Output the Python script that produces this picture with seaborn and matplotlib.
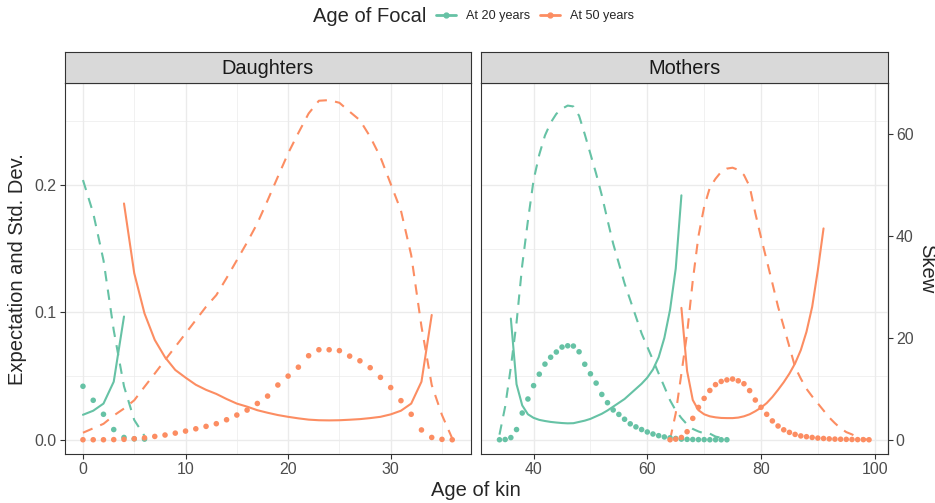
import matplotlib
matplotlib.use("Agg")
import matplotlib.pyplot as plt
from matplotlib.lines import Line2D
from matplotlib.ticker import MultipleLocator, FormatStrFormatter
import seaborn as sns
import pandas as pd

# skew is drawn on the same panel, divided by this factor (right axis shows the real value)
SKEW_SCALE = 250

focal_levels = ["At 20 years", "At 50 years"]
kin_levels = ["Daughters", "Mothers"]

# ---- Daughters, focal aged 20 ----
dau20_age = list(range(0, 7))
dau20_mean = [0.042, 0.031, 0.020, 0.008, 0.0018, 0.0007, 0.0005]
dau20_sd = [0.204, 0.178, 0.141, 0.086, 0.042, 0.0155, 0.003]
dau20_skew_age = list(range(0, 5))
dau20_skew = [4.9, 5.7, 7.1, 11.4, 24.2]

# ---- Daughters, focal aged 50 ----
dau50_age = list(range(0, 37))
dau50_mean = [0, 0, 0, 0.0001, 0.0003, 0.0008, 0.0015, 0.0026, 0.0037, 0.0052,
              0.0068, 0.0086, 0.0105, 0.0126, 0.0157, 0.0194, 0.0233, 0.0285, 0.0343, 0.043,
              0.050, 0.057, 0.066, 0.0707, 0.0707, 0.070, 0.0657, 0.062, 0.0566, 0.049,
              0.041, 0.0307, 0.020, 0.0077, 0.0018, 0.0003, 0]
dau50_sd = [0.0055, 0.009, 0.0125, 0.019, 0.0245, 0.031, 0.0416, 0.052, 0.0626, 0.073,
            0.0835, 0.094, 0.1045, 0.1136, 0.127, 0.141, 0.155, 0.170, 0.188, 0.2066,
            0.225, 0.241, 0.2563, 0.2663, 0.2668, 0.2647, 0.2577, 0.251, 0.238, 0.222,
            0.201, 0.180, 0.145, 0.089, 0.043, 0.0194, 0.001]
dau50_skew_age = list(range(4, 35))
dau50_skew = [46.4, 32.7, 24.8, 19.6, 16.2, 13.7, 12.2, 10.8, 9.8, 9.0,
              8.0, 7.1, 6.5, 5.8, 5.3, 4.85, 4.5, 4.2, 3.95, 3.83,
              3.8, 3.83, 3.93, 4.05, 4.25, 4.5, 4.98, 5.7, 7.1, 11.4, 24.5]

# ---- Mothers, focal aged 20 ----
mot20_age = list(range(34, 75))
mot20_mean = [0, 0.0002, 0.0017, 0.008, 0.021, 0.032, 0.0425, 0.0515, 0.0594, 0.0648,
              0.0689, 0.0728, 0.0738, 0.0736, 0.0691, 0.0593, 0.0518, 0.0445, 0.0356, 0.0291,
              0.0234, 0.0199, 0.0161, 0.0125, 0.0101, 0.008, 0.0061, 0.0045, 0.0032, 0.0022,
              0.0015, 0.001, 0.0005, 0.0003, 0.0002, 0.0001, 0.0001, 0, 0, 0, 0]
mot20_sd = [0.004, 0.026, 0.057, 0.092, 0.137, 0.172, 0.204, 0.224, 0.239, 0.249,
            0.256, 0.26, 0.2625, 0.2618, 0.2545, 0.24, 0.2245, 0.209, 0.192, 0.1726,
            0.154, 0.1385, 0.1228, 0.1097, 0.0966, 0.0835, 0.073, 0.0626, 0.052, 0.0416,
            0.031, 0.023, 0.017, 0.012, 0.0085, 0.0065, 0.005, 0.0048, 0.0025, 0.0015, 0.0008]
mot20_skew_age = list(range(36, 67))
mot20_skew = [23.8, 10.9, 6.75, 5.0, 4.3, 3.9, 3.68, 3.5, 3.38, 3.28,
              3.22, 3.25, 3.5, 3.75, 4.1, 4.6, 5.1, 5.75, 6.5, 7.25,
              8.0, 9.0, 10.0, 11.0, 12.2, 13.8, 16.2, 20.0, 25.5, 33.6, 48.0]

# ---- Mothers, focal aged 50 ----
mot50_age = list(range(64, 100))
mot50_mean = [0, 0.0005, 0.0018, 0.0063, 0.0168, 0.0254, 0.0325, 0.0387, 0.0433, 0.0458,
              0.047, 0.0477, 0.0463, 0.044, 0.0386, 0.0312, 0.0255, 0.020, 0.0148, 0.0108,
              0.0078, 0.0058, 0.0042, 0.003, 0.0024, 0.0018, 0.0013, 0.001, 0.0007, 0.0005,
              0.0004, 0.0003, 0.0002, 0.0001, 0.0001, 0]
mot50_sd = [0.0, 0.0207, 0.052, 0.0835, 0.125, 0.16, 0.183, 0.198, 0.205, 0.2105,
            0.213, 0.2137, 0.212, 0.208, 0.199, 0.178, 0.159, 0.141, 0.123, 0.1045,
            0.0888, 0.073, 0.057, 0.048, 0.040, 0.034, 0.0285, 0.023, 0.0175, 0.013,
            0.009, 0.006, 0.0042, 0.0018, 0.0005, 0.0]
mot50_skew_age = list(range(66, 92))
mot50_skew = [25.9, 13.5, 7.8, 5.8, 5.0, 4.6, 4.4, 4.28, 4.25, 4.25,
              4.35, 4.6, 5.0, 5.6, 6.3, 7.2, 8.4, 9.8, 11.3, 13.0,
              15.0, 17.6, 21.2, 26.1, 33.3, 41.5]

series = [
    ("Daughters", "At 20 years", dau20_age, dau20_mean, dau20_sd, dau20_skew_age, dau20_skew),
    ("Daughters", "At 50 years", dau50_age, dau50_mean, dau50_sd, dau50_skew_age, dau50_skew),
    ("Mothers", "At 20 years", mot20_age, mot20_mean, mot20_sd, mot20_skew_age, mot20_skew),
    ("Mothers", "At 50 years", mot50_age, mot50_mean, mot50_sd, mot50_skew_age, mot50_skew),
]

rows = []
for kin, focal, age, mean, sd, sk_age, sk in series:
    for a, m, s in zip(age, mean, sd):
        rows.append((kin, focal, a, "mean", m))
        rows.append((kin, focal, a, "sd", s))
    for a, k in zip(sk_age, sk):
        rows.append((kin, focal, a, "skew", k / SKEW_SCALE))
df = pd.DataFrame(rows, columns=["kin", "focal", "age", "stat", "value"])

sns.set_theme(style="white")
plt.rcParams["font.family"] = ["Liberation Sans", "DejaVu Sans"]

pal = {"At 20 years": "#66C2A5", "At 50 years": "#FC8D62"}
W, H = 935, 503
fig = plt.figure(figsize=(W / 100, H / 100), dpi=100)

panel_bottom, panel_top = 454, 83.3
ax_d = fig.add_axes([64.5 / W, 1 - panel_bottom / H, (470.7 - 64.5) / W, (panel_bottom - panel_top) / H])
ax_m = fig.add_axes([481 / W, 1 - panel_bottom / H, (887.5 - 481) / W, (panel_bottom - panel_top) / H])

border = "#333333"
for ax, kin in zip([ax_d, ax_m], kin_levels):
    sub = df[df["kin"] == kin]
    sns.lineplot(data=sub[sub["stat"] != "mean"], x="age", y="value",
                 hue="focal", hue_order=focal_levels, palette=pal,
                 style="stat", style_order=["sd", "skew"],
                 dashes={"sd": (5, 4), "skew": ""},
                 estimator=None, linewidth=1.5, legend=False, ax=ax)
    sns.scatterplot(data=sub[sub["stat"] == "mean"], x="age", y="value",
                    hue="focal", hue_order=focal_levels, palette=pal,
                    s=16, linewidth=0, legend=False, ax=ax, zorder=3)
    ax.set_ylim(-0.0112, 0.280)
    ax.yaxis.set_major_locator(MultipleLocator(0.1))
    ax.yaxis.set_minor_locator(MultipleLocator(0.05))
    ax.yaxis.set_major_formatter(FormatStrFormatter("%.1f"))
    ax.grid(which="major", color="#EBEBEB", linewidth=1.0)
    ax.grid(which="minor", color="#EBEBEB", linewidth=0.5)
    ax.set_axisbelow(True)
    ax.set_xlabel("")
    ax.set_ylabel("")
    ax.tick_params(which="major", length=3.8, width=0.8, color=border,
                   labelsize=11.4, labelcolor="#4D4D4D", pad=2.2,
                   bottom=True, left=True)
    ax.tick_params(which="minor", length=0)
    for sp in ax.spines.values():
        sp.set_color(border)
        sp.set_linewidth(0.8)

    # facet strip
    pos = ax.get_position()
    sax = fig.add_axes([pos.x0, 1 - panel_top / H, pos.width, 31 / H])
    sax.set_facecolor("#D9D9D9")
    sax.set_xticks([])
    sax.set_yticks([])
    for sp in sax.spines.values():
        sp.set_color(border)
        sp.set_linewidth(0.8)
    sax.text(0.5, 0.47, kin, ha="center", va="center", fontsize=14.4,
             color="#1A1A1A", transform=sax.transAxes)

ax_d.set_xlim(-1.8, 37.8)
ax_d.xaxis.set_major_locator(MultipleLocator(10))
ax_d.xaxis.set_minor_locator(MultipleLocator(5))

ax_m.set_xlim(30.75, 102.25)
ax_m.set_xticks([40, 60, 80, 100])
ax_m.xaxis.set_minor_locator(MultipleLocator(10))
ax_m.tick_params(axis="y", which="both", left=False, labelleft=False)

sec = ax_m.secondary_yaxis("right", functions=(lambda v: v * SKEW_SCALE,
                                               lambda v: v / SKEW_SCALE))
sec.set_yticks([0, 20, 40, 60])
sec.tick_params(length=3.8, width=0.8, color=border, labelsize=11.4,
                labelcolor="#4D4D4D", pad=2.2)
for sp in sec.spines.values():
    sp.set_color(border)
    sp.set_linewidth(0.8)

# axis titles
fig.text(476 / W, 1 - 491 / H, "Age of kin", ha="center", va="center", fontsize=14.5)
fig.text(18 / W, 1 - 268.7 / H, "Expectation and Std. Dev.", rotation=90,
         ha="center", va="center", fontsize=14.5)
fig.text(927 / W, 1 - 268.7 / H, "Skew", rotation=270,
         ha="center", va="center", fontsize=14.5)

# legend on top
fig.text(313 / W, 1 - 16 / H, "Age of Focal", ha="left", va="center", fontsize=14.5)
handles = [Line2D([0], [0], color=pal[f], lw=2, marker="o", markersize=3.5) for f in focal_levels]
fig.legend(handles, focal_levels, loc="center left", bbox_to_anchor=(436 / W, 1 - 16 / H),
           ncol=2, frameon=False, fontsize=9.1, handlelength=1.6, handletextpad=0.75,
           columnspacing=0.8, borderpad=0, borderaxespad=0)

fig.savefig("out.png", dpi=100)
